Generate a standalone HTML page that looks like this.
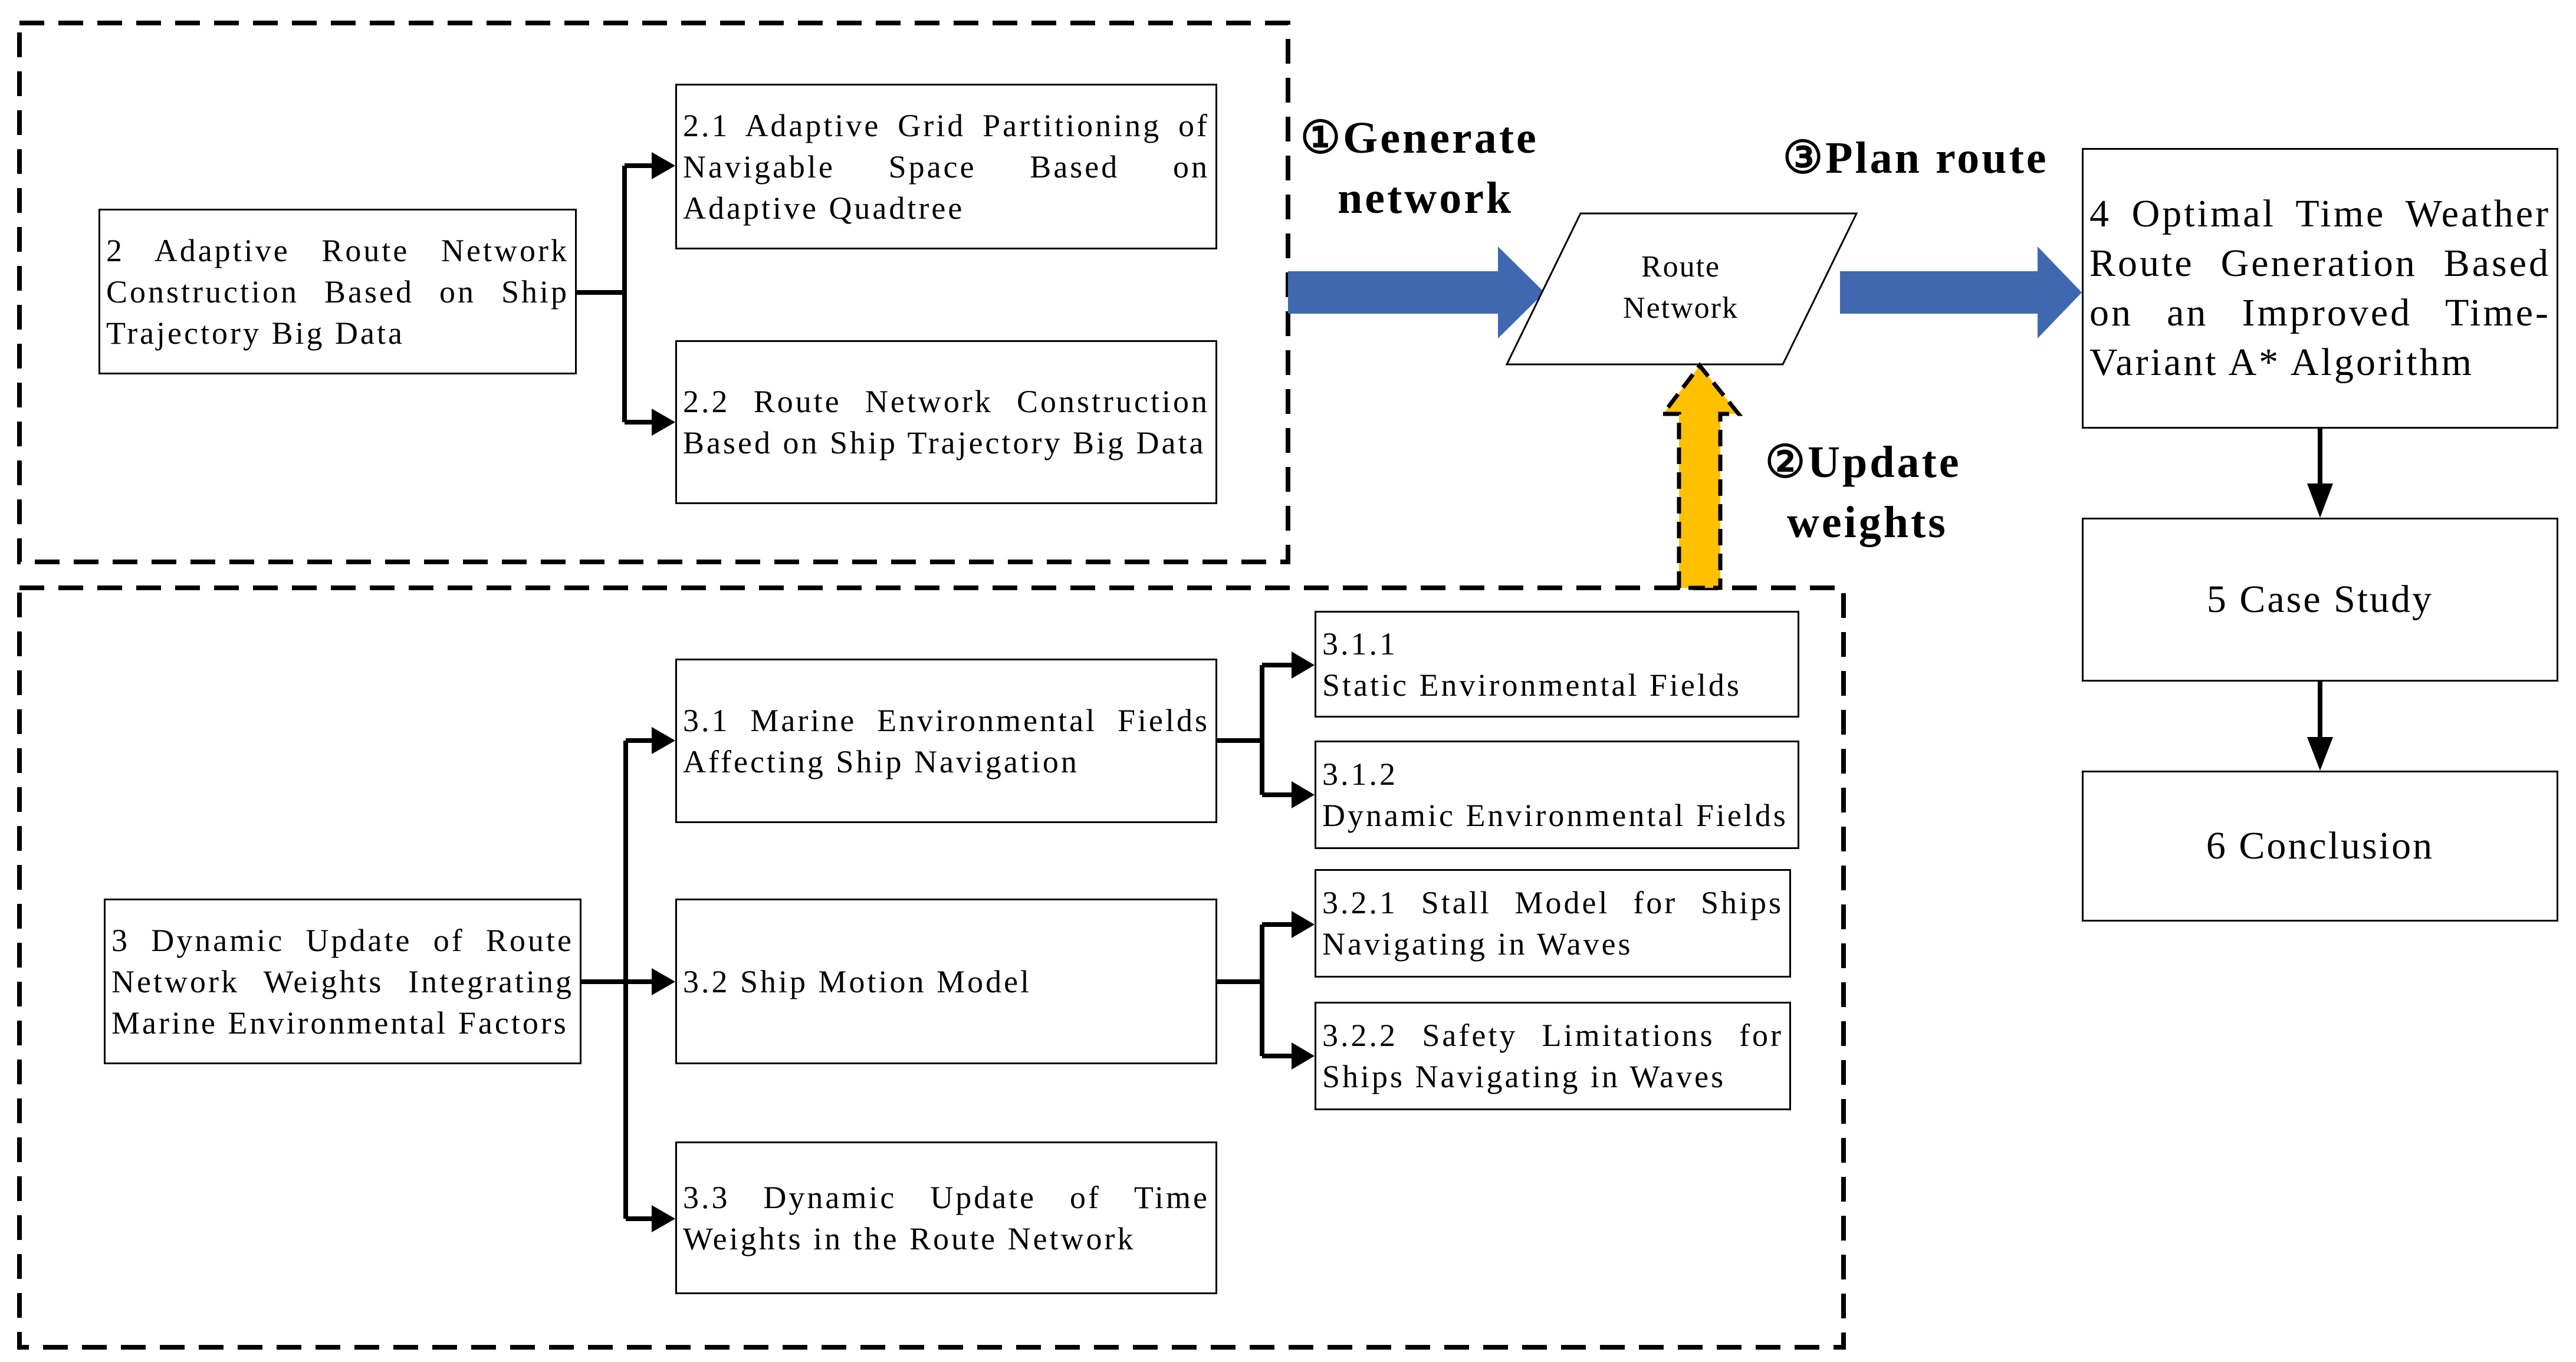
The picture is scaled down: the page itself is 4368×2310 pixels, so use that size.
<!DOCTYPE html>
<html><head><meta charset="utf-8"><style>
html,body{margin:0;padding:0;background:#fff}
body{width:4368px;height:2310px;position:relative;overflow:hidden;font-family:"Liberation Serif",serif}
.b{position:absolute;box-sizing:border-box;border:3px solid #000;display:flex;align-items:center;padding:0 10px;background:#fff}
.b div{width:100%;font-size:54px;line-height:70px;letter-spacing:4px;text-align:justify;text-align-last:left}
.c div{text-align:center;text-align-last:center}
.lbl{position:absolute;font-weight:bold;font-size:76px;line-height:76px;letter-spacing:4px;white-space:nowrap}
</style></head><body>
<svg width="4368" height="2310" style="position:absolute;left:0;top:0">
<g fill="none" stroke="#000" stroke-width="8" stroke-dasharray="42,24">
<rect x="33" y="39" width="2151" height="914"/>
<rect x="33" y="997" width="3093" height="1288"/>
</g>
<g stroke="#000" stroke-width="8" fill="none">
<path d="M978 496 H1059 M1059 281 V716 M1059 281 H1110 M1059 716 H1110"/>
<path d="M986 1665 H1061 M1061 1256 V2067 M1061 1256 H1110 M1061 2067 H1110 M1061 1665 H1110"/>
<path d="M2064 1256 H2140 M2140 1128 V1348 M2140 1128 H2195 M2140 1348 H2195"/>
<path d="M2064 1665 H2140 M2140 1568 V1791 M2140 1568 H2195 M2140 1791 H2195"/>
<path d="M3934 727 V830 M3934 1156 V1260"/>
</g>
<g fill="#000">
<polygon points="1105,258 1145,281 1105,304"/><polygon points="1105,693 1145,716 1105,739"/>
<polygon points="1105,1233 1145,1256 1105,1279"/><polygon points="1105,1642 1145,1665 1105,1688"/><polygon points="1105,2044 1145,2067 1105,2090"/>
<polygon points="2190,1105 2229,1128 2190,1151"/><polygon points="2190,1325 2229,1348 2190,1371"/>
<polygon points="2190,1545 2229,1568 2190,1591"/><polygon points="2190,1768 2229,1791 2190,1814"/>
<polygon points="3912,820 3934,878 3956,820"/><polygon points="3912,1250 3934,1307 3956,1250"/>
</g>
<polygon points="2184,460 2540,460 2540,418 2619,496 2540,574 2540,532 2184,532" fill="#4068B0"/>
<polygon points="3120,460 3455,460 3455,418 3530,496 3455,574 3455,532 3120,532" fill="#4068B0"/>
<polygon points="2680,362 3148,362 3023,618 2555,618" fill="#fff" stroke="#000" stroke-width="3"/>
<polygon points="2847,997 2847,702 2820,702 2882,620 2948,702 2917,702 2917,997" fill="#FFC000" stroke="#000" stroke-width="7" stroke-dasharray="28,14"/>
</svg>
<div style="position:absolute;left:2600px;top:418px;width:500px;text-align:center;font-size:52px;line-height:70px;letter-spacing:2px">Route<br>Network</div>
<div class="lbl" style="left:2205px;top:196px">①Generate</div>
<div class="lbl" style="left:2268px;top:298px">network</div>
<div class="lbl" style="left:3023px;top:230px">③Plan route</div>
<div class="lbl" style="left:2993px;top:746px">②Update</div>
<div class="lbl" style="left:3030px;top:848px">weights</div>

<div class="b" style="left:167px;top:354px;width:811px;height:281px"><div>2 Adaptive Route Network Construction Based on Ship Trajectory Big Data</div></div>
<div class="b" style="left:1145px;top:142px;width:919px;height:281px"><div>2.1 Adaptive Grid Partitioning of Navigable Space Based on Adaptive Quadtree</div></div>
<div class="b" style="left:1145px;top:577px;width:919px;height:278px"><div>2.2 Route Network Construction Based on Ship Trajectory Big Data</div></div>
<div class="b" style="left:176px;top:1524px;width:810px;height:281px"><div>3 Dynamic Update of Route Network Weights Integrating Marine Environmental Factors</div></div>
<div class="b" style="left:1145px;top:1117px;width:919px;height:279px"><div>3.1 Marine Environmental Fields Affecting Ship Navigation</div></div>
<div class="b" style="left:1145px;top:1524px;width:919px;height:281px"><div>3.2 Ship Motion Model</div></div>
<div class="b" style="left:1145px;top:1936px;width:919px;height:259px"><div>3.3 Dynamic Update of Time Weights in the Route Network</div></div>
<div class="b" style="left:2229px;top:1036px;width:822px;height:181px"><div>3.1.1<br>Static Environmental Fields</div></div>
<div class="b" style="left:2229px;top:1256px;width:822px;height:184px"><div>3.1.2<br>Dynamic Environmental Fields</div></div>
<div class="b" style="left:2229px;top:1474px;width:808px;height:184px"><div>3.2.1 Stall Model for Ships Navigating in Waves</div></div>
<div class="b" style="left:2229px;top:1699px;width:808px;height:184px"><div>3.2.2 Safety Limitations for Ships Navigating in Waves</div></div>
<div class="b" style="left:3530px;top:251px;width:808px;height:476px"><div style="font-size:66px;line-height:84px;letter-spacing:4px">4 Optimal Time Weather Route Generation Based on an Improved Time-Variant A* Algorithm</div></div>
<div class="b c" style="left:3530px;top:878px;width:808px;height:278px"><div style="font-size:66px;letter-spacing:3px">5 Case Study</div></div>
<div class="b c" style="left:3530px;top:1307px;width:808px;height:256px"><div style="font-size:66px;letter-spacing:3px">6 Conclusion</div></div>
</body></html>
